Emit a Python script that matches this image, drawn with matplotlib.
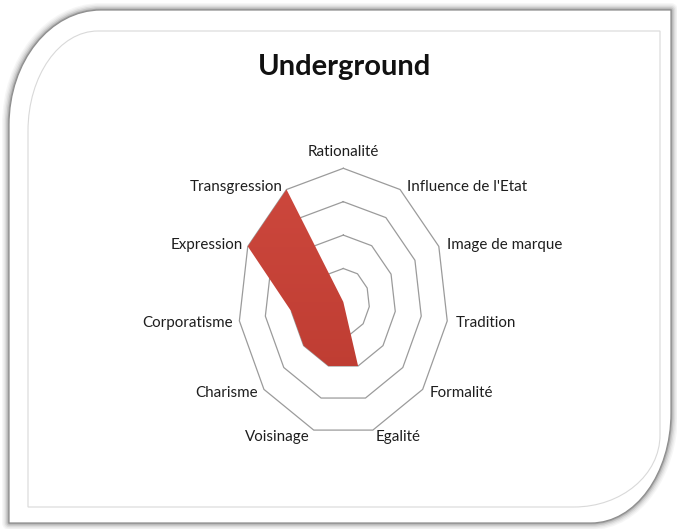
import numpy as np
import matplotlib
matplotlib.use("Agg")
import matplotlib.pyplot as plt
from matplotlib.path import Path
from matplotlib.patches import PathPatch, Polygon
from matplotlib.colors import LinearSegmentedColormap

# ---------------- data ----------------
title = "Underground"
categories = ["Rationalité", "Influence de l'Etat", "Image de marque", "Tradition",
              "Formalité", "Egalité", "Voisinage", "Charisme", "Corporatisme",
              "Expression", "Transgression"]
values = [0, 0, 0, 0, 0, 2, 2, 2, 2, 4, 4]
ring_levels = [1, 2, 3, 4]
r_max = 4

# label placement (offset in pixels, alignment)
label_style = [
    ((0, 16), "center"), ((7, 3), "left"), ((8, 1), "left"), ((9, -2), "left"),
    ((7, -4), "left"), ((3, -7), "left"), ((-4, -7), "right"), ((-6, -4), "right"),
    ((-6, -2), "right"), ((-5, 1), "right"), ((-4, 3), "right"),
]

W, H = 677, 529
fig = plt.figure(figsize=(W / 100, H / 100), dpi=100)
fig.patch.set_facecolor("white")

# ---------------- background frame ----------------
bg = fig.add_axes([0, 0, 1, 1])
bg.set_xlim(0, W)
bg.set_ylim(H, 0)
bg.axis("off")

K = 0.5523


def rounded_path(x0, y0, x1, y1, tl, br):
    trx, tr_y = tl
    brx, bry = br
    verts = [
        (x0 + trx, y0), (x1, y0), (x1, y1 - bry),
        (x1, y1 - bry + K * bry), (x1 - brx + K * brx, y1), (x1 - brx, y1),
        (x0, y1), (x0, y0 + tr_y),
        (x0, y0 + tr_y - K * tr_y), (x0 + trx - K * trx, y0), (x0 + trx, y0),
        (x0 + trx, y0),
    ]
    codes = [Path.MOVETO, Path.LINETO, Path.LINETO,
             Path.CURVE4, Path.CURVE4, Path.CURVE4,
             Path.LINETO, Path.LINETO,
             Path.CURVE4, Path.CURVE4, Path.CURVE4,
             Path.CLOSEPOLY]
    return Path(verts, codes)


outer = rounded_path(9, 10, 671, 523, (92, 115), (80, 110))
# soft shadow
for lw, a in [(10, 0.06), (8, 0.08), (6, 0.12), (4, 0.2), (2, 0.35)]:
    bg.add_patch(PathPatch(outer, facecolor="none", edgecolor="#707070",
                           lw=lw, alpha=a, joinstyle="round"))
bg.add_patch(PathPatch(outer, facecolor="white", edgecolor="#8f8f8f", lw=0.9))

inner = rounded_path(28, 31, 660, 507, (70, 100), (86, 72))
bg.add_patch(PathPatch(inner, facecolor="white", edgecolor="#d9d9d9", lw=0.8))

# ---------------- title ----------------
fig.text(344 / W, 1 - 67 / H, title, ha="center", va="center",
         fontsize=21, fontweight="bold", family="Lato", color="#111111")

# ---------------- radar ----------------
cx, cy = 343.3, 301.9
Rx, Ry = 105.0, 133.6
span = 5.0
aw = 2 * span * Rx / r_max
ah = 2 * span * Ry / r_max
ax = fig.add_axes([(cx - aw / 2) / W, (H - cy - ah / 2) / H, aw / W, ah / H])
ax.set_xlim(-span, span)
ax.set_ylim(-span, span)
ax.axis("off")

n = len(categories)
theta = 2 * np.pi * np.arange(n) / n
ux, uy = np.sin(theta), np.cos(theta)

for lvl in ring_levels:
    xs = np.append(lvl * ux, lvl * ux[0])
    ys = np.append(lvl * uy, lvl * uy[0])
    ax.plot(xs, ys, color="#9b9b9b", lw=0.9, zorder=2)

vals = np.array(values, dtype=float)
poly = Polygon(np.column_stack([vals * ux, vals * uy]), closed=True,
               facecolor="none", edgecolor="none", zorder=3)
ax.add_patch(poly)
cmap = LinearSegmentedColormap.from_list("red", ["#b8382e", "#d04a3f"])
grad = np.linspace(0, 1, 256).reshape(-1, 1)
img = ax.imshow(grad, cmap=cmap, origin="lower", extent=(-span, span, -span, span),
                aspect="auto", zorder=3, interpolation="bicubic")
img.set_clip_path(poly)

for i, cat in enumerate(categories):
    (dx, dy), ha = label_style[i]
    ax.annotate(cat, xy=(r_max * ux[i], r_max * uy[i]), xytext=(dx, dy),
                textcoords="offset pixels", ha=ha, va="center",
                fontsize=10.9, family="Lato", color="#1e1e1e", zorder=5)

fig.savefig("out.png", dpi=100, facecolor="white")
